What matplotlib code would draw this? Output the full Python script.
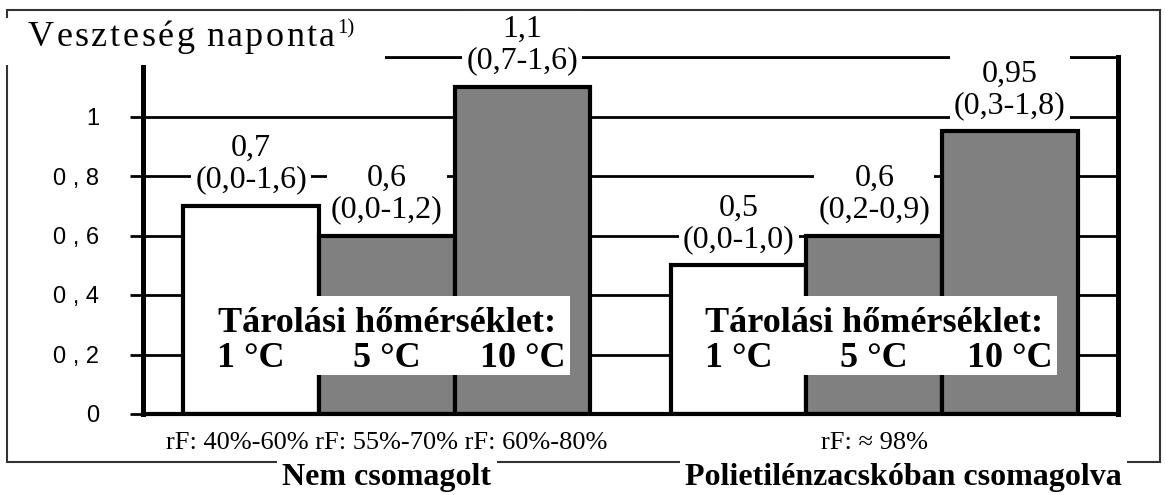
import matplotlib
matplotlib.use("Agg")
import matplotlib.pyplot as plt
from matplotlib.patches import Rectangle

# ===== adatok =====
groups = ["Nem csomagolt", "Polietilénzacskóban csomagolva"]
temps = ["1 °C", "5 °C", "10 °C"]
loss = [[0.7, 0.6, 1.1], [0.5, 0.6, 0.95]]
value_labels = [["0,7", "0,6", "1,1"], ["0,5", "0,6", "0,95"]]
range_labels = [["(0,0-1,6)", "(0,0-1,2)", "(0,7-1,6)"],
                ["(0,0-1,0)", "(0,2-0,9)", "(0,3-1,8)"]]
rf_labels = ["rF: 40%-60% rF: 55%-70% rF: 60%-80%", "rF: ≈ 98%"]
bar_colors = ["white", "#808080", "#808080"]
yticks = [0, 0.2, 0.4, 0.6, 0.8, 1.0, 1.2]
ytick_labels = ["0", "0 , 2", "0 , 4", "0 , 6", "0 , 8", "1", ""]
title_str = "Veszteség naponta"
title_note = "1)"

W, H = 1166, 495


def fx(px):
    return px / W


def fy(py):
    return 1 - py / H


serif = ["Liberation Serif", "DejaVu Serif"]
sans = "Liberation Sans"

fig = plt.figure(figsize=(W / 100, H / 100), dpi=100)
ax = fig.add_axes([fx(143), fy(414), fx(1118) - fx(143), fy(57) - fy(414)])
ax.patch.set_visible(False)

bw = 0.278  # oszlopszélesség (Excel-szerű, kis gap)
group_shift = [0.0, 0.06]  # a csoportfelirat vízszintes eltolása

for g in range(len(groups)):
    for s in range(len(temps)):
        x = g + 0.5 + (s - 1) * bw
        ax.bar(x, loss[g][s], width=bw, color=bar_colors[s],
               edgecolor="black", linewidth=3, zorder=2)
        ax.annotate(value_labels[g][s] + "\n" + range_labels[g][s],
                    xy=(x, loss[g][s]), xytext=(0, 8),
                    textcoords="offset points", ha="center", va="bottom",
                    fontsize=23, family=serif, linespacing=1.12,
                    annotation_clip=False, zorder=6,
                    bbox=dict(facecolor="white", edgecolor="none", pad=3))
        # hőmérséklet felirat
        ax.text(x, 0.158, temps[s], ha="center", va="baseline",
                fontsize=26, fontweight="bold", family=serif, zorder=5)

    # fehér doboz a "Tárolási hőmérséklet" felirat mögött
    ax.add_patch(Rectangle((g + 0.10, 0.131), 0.775, 0.266,
                           facecolor="white", edgecolor="none", zorder=4))
    ax.text(g + 0.153, 0.276, "Tárolási hőmérséklet:", ha="left",
            va="baseline", fontsize=26, fontweight="bold", family=serif,
            zorder=5)

    # rF és csoport feliratok
    ax.text(g + 0.5, -0.081, rf_labels[g], transform=ax.get_xaxis_transform(),
            ha="center", va="center", fontsize=19, family=serif,
            clip_on=False, zorder=6,
            bbox=dict(facecolor="white", edgecolor="none", pad=3))
    ax.text(g + 0.5 + group_shift[g], -0.179, groups[g],
            transform=ax.get_xaxis_transform(),
            ha="center", va="center", fontsize=23, fontweight="bold",
            family=serif, clip_on=False, zorder=6,
            bbox=dict(facecolor="white", edgecolor="none", pad=4))

ax.set_xlim(0, 2)
ax.set_ylim(0, 1.2)
ax.set_xticks([])
ax.set_yticks(yticks)
ax.set_yticklabels(ytick_labels, family=sans, fontsize=17)
ax.tick_params(axis="y", length=9.5, width=2, pad=22)
ax.yaxis.grid(True, color="black", linewidth=2)
ax.set_axisbelow(True)

ax.spines["left"].set_linewidth(3.6)
ax.spines["right"].set_linewidth(3.6)
ax.spines["bottom"].set_linewidth(3)
ax.spines["top"].set_linewidth(2)

# keret az egész ábra körül
fig.patches.append(Rectangle((fx(7), fy(462)), fx(1160) - fx(7),
                             fy(10) - fy(462), transform=fig.transFigure,
                             fill=False, edgecolor="#333333", linewidth=1.5,
                             zorder=-1))

# cím fehér háttérrel, ritkított betűközzel (betűnként elhelyezve)
fig.patches.append(Rectangle((0, fy(65)), fx(385), fy(18) - fy(65),
                             transform=fig.transFigure, facecolor="white",
                             edgecolor="none", zorder=1))
fig.canvas.draw()
renderer = fig.canvas.get_renderer()
cur = 28.0
letter_gap = 2.5
for ch in title_str:
    if ch == " ":
        cur += 9
        continue
    t = fig.text(fx(cur), fy(46), ch, fontsize=26, family=serif,
                 va="baseline", ha="left", zorder=3)
    cur += t.get_window_extent(renderer).width + letter_gap
fig.text(fx(cur - letter_gap + 2), fy(19), title_note, fontsize=15,
         family=serif, ha="left", va="top", zorder=3)

fig.savefig("out.png", dpi=100)
